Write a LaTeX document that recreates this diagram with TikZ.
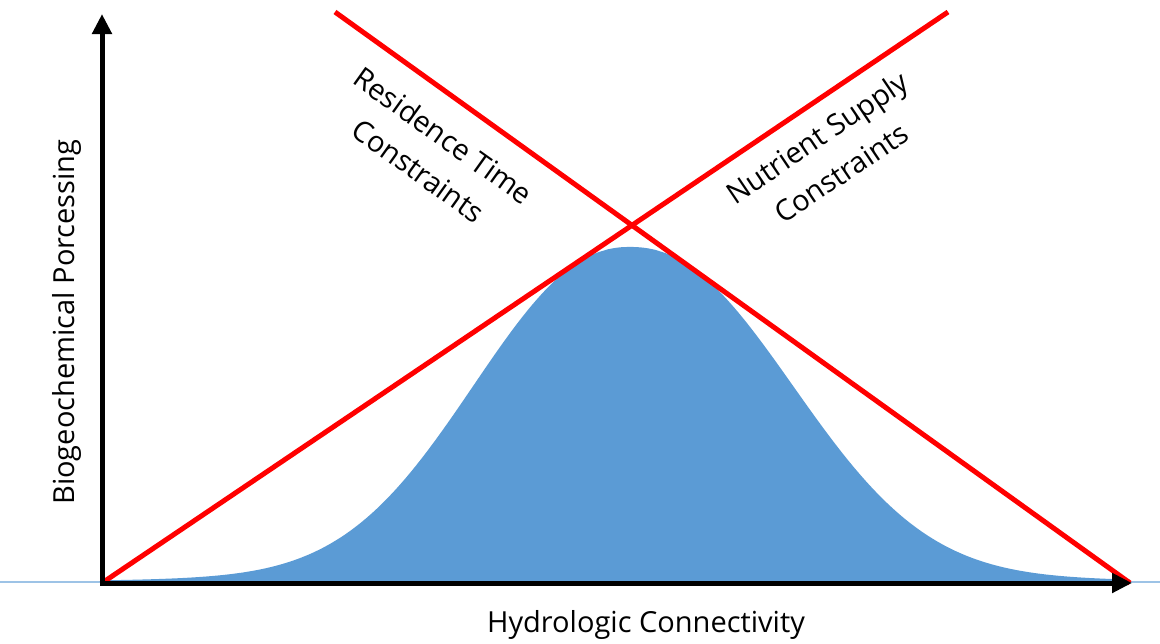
\documentclass[tikz,border=0pt]{standalone}
\usepackage{fontspec}
\setmainfont{Open Sans}
\usetikzlibrary{arrows.meta}
\definecolor{bellblue}{HTML}{5B9BD5}
\definecolor{baseblue}{HTML}{9DC3E6}
\tikzset{
  axis/.style={line width=5pt, -{Triangle[length=20pt,width=19pt]}},
  constraint/.style={line width=5pt, red},
  lbl/.style={font=\fontsize{29}{34}\selectfont, inner sep=0pt, align=center},
  tilted/.style={lbl, font=\fontsize{29}{43}\selectfont}
}
\begin{document}
\begin{tikzpicture}[x=1pt,y=-1pt]
  \useasboundingbox (0,0) rectangle (1160,643);
  % reference points
  \coordinate (origin) at (102,583);
  \coordinate (ytip) at (102,14);
  \coordinate (xtip) at (1132,583);
  \coordinate (xstart) at (99.5,583);
  \coordinate (ystart) at (102,585.5);
  \coordinate (rtA) at (335,12);
  \coordinate (rtB) at (1130,583);
  \coordinate (nsA) at (102,583);
  \coordinate (nsB) at (948,12);
  \coordinate (baseL) at (0,582);
  \coordinate (baseR) at (1160,582);
  % thin baseline
  \draw[baseblue, line width=1.5pt] (baseL) -- (baseR);
  % hump of processing rate, slightly wider with a longer tail on the right
  \fill[bellblue] (102,583)
    -- plot[domain=102:1130, samples=300, smooth]
       (\x, {583-336*( exp(-(max(abs(\x-630),0.01)/(\x<630 ? 205 : 213))^2.2)
              + 0.03*(1-exp(-((\x-630)/200)^2))*exp(-((\x-630)/450)^2) )})
    -- (1130,583) -- cycle;
  % constraint lines
  \draw[constraint] (rtA) -- (rtB);
  \draw[constraint] (nsA) -- (nsB);
  % axes
  \draw[axis] (ystart) -- (ytip);
  \draw[axis] (xstart) -- (xtip);
  % labels
  \node[lbl, rotate=90] (ylabel) at (67,322) {Biogeochemical Porcessing};
  \node[lbl] (xlabel) at (646,625) {Hydrologic Connectivity};
  \node[tilted, rotate=-35.5] (rtlabel) at (431,153) {Residence Time\\Constraints};
  \node[tilted, rotate=34] (nslabel) at (829,155) {Nutrient Supply\\Constraints};
\end{tikzpicture}
\end{document}
